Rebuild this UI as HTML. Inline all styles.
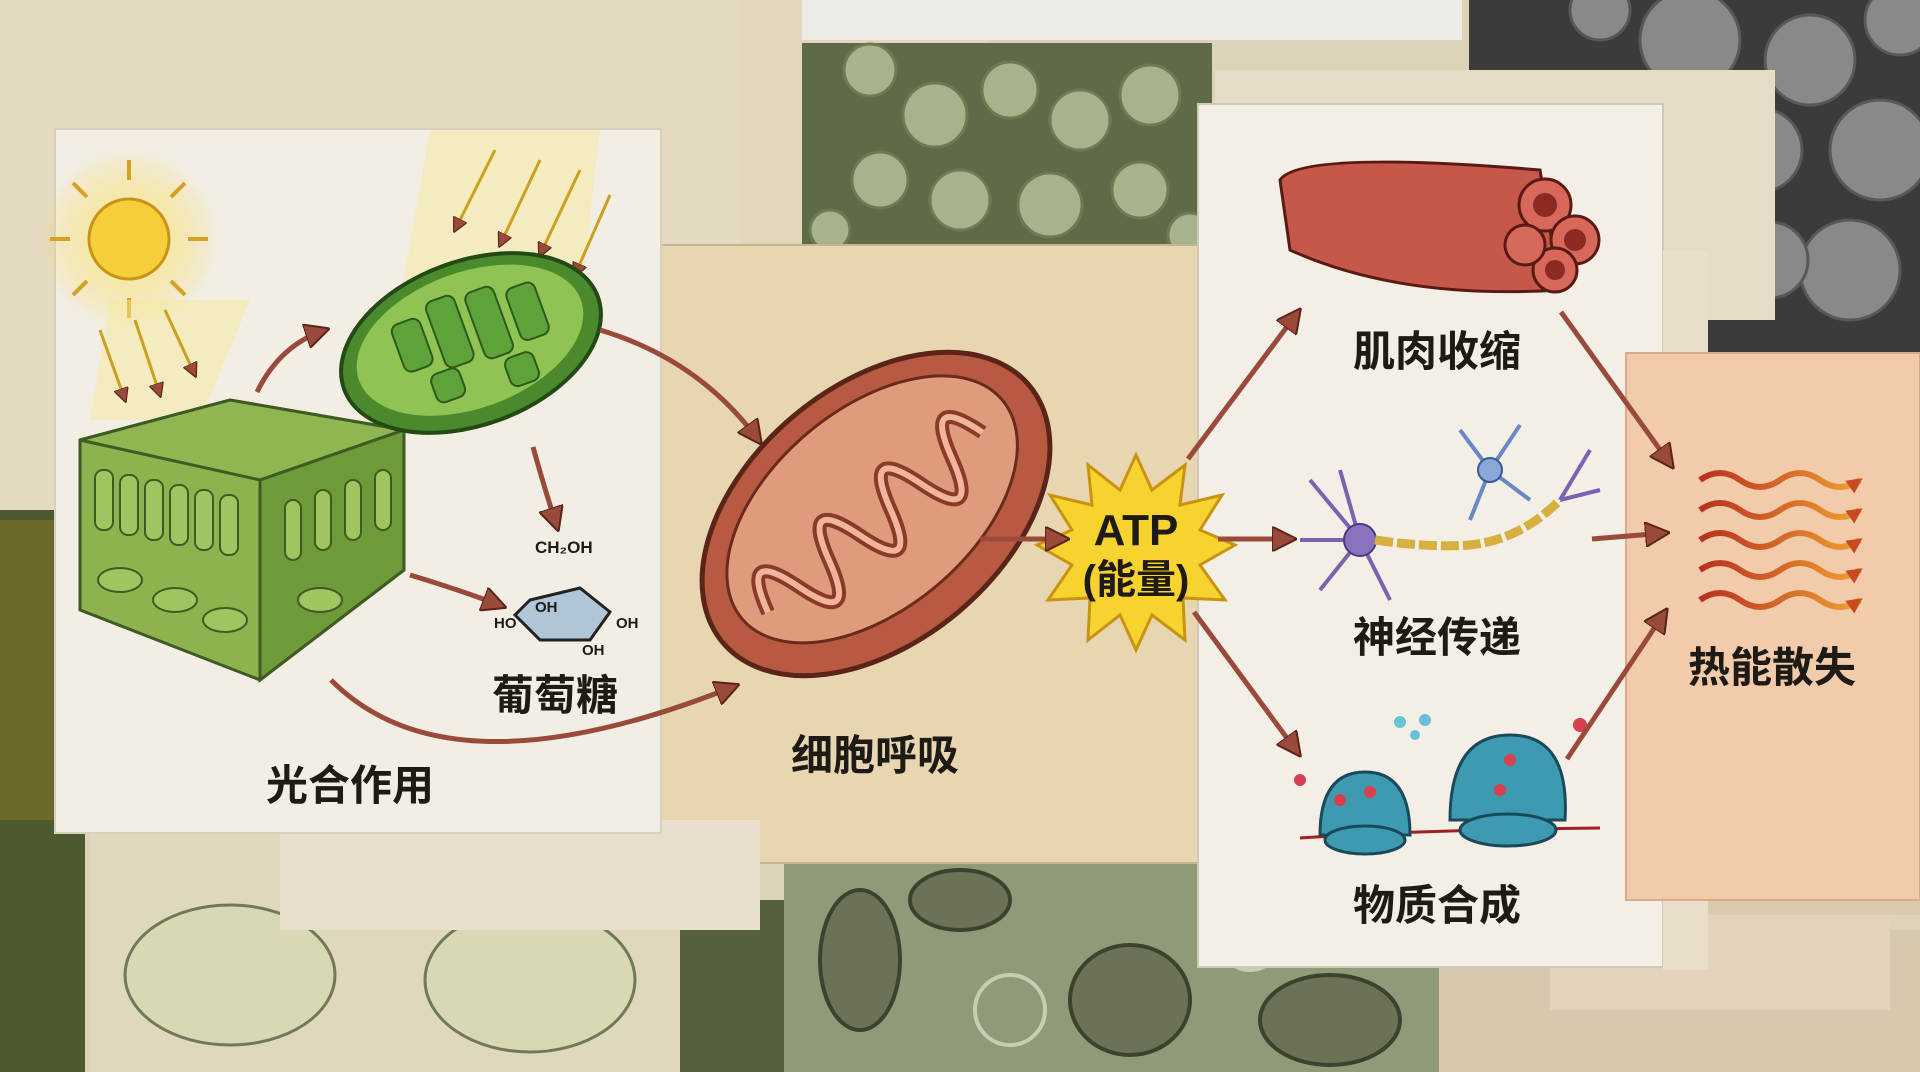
<!DOCTYPE html>
<html><head><meta charset="utf-8"><style>
html,body{margin:0;padding:0;width:1920px;height:1072px;overflow:hidden;background:#d9ceb4}
svg{display:block}
text{font-family:"Liberation Sans","Noto Sans CJK SC",sans-serif;font-weight:700;fill:#1e1a16}
</style></head><body>
<svg width="1920" height="1072" viewBox="0 0 1920 1072" xmlns="http://www.w3.org/2000/svg">
<defs>
<marker id="ah" viewBox="0 0 10 10" refX="8" refY="5" markerWidth="5" markerHeight="5" orient="auto-start-reverse">
<path d="M0,0 L10,5 L0,10 z" fill="#9a4a3a" stroke="#5a2418" stroke-width="0.8"/></marker>
<marker id="ah2" viewBox="0 0 10 10" refX="8" refY="5" markerWidth="2.6" markerHeight="2.6" orient="auto">
<path d="M0,0 L10,5 L0,10 z" fill="#c84a20"/></marker>
<radialGradient id="sun" cx="0.5" cy="0.5" r="0.5"><stop offset="0" stop-color="#fff6a0"/><stop offset="1" stop-color="#f3d040" stop-opacity="0"/></radialGradient>
<linearGradient id="heat" x1="0" x2="1"><stop offset="0" stop-color="#b83020"/><stop offset="1" stop-color="#f0a030"/></linearGradient>
</defs>
<rect x="0" y="0" width="1920" height="1072" fill="#ddd3b9"/>
<rect x="0" y="0" width="760" height="520" fill="#e4dac2"/>
<rect x="740" y="0" width="250" height="280" fill="#e2d6bc"/>
<rect x="0" y="510" width="85" height="562" fill="#4d5a30"/>
<rect x="0" y="520" width="60" height="300" fill="#6a6a2a"/>
<rect x="90" y="820" width="590" height="252" fill="#e0d8bd"/>
<rect x="680" y="900" width="110" height="172" fill="#55603f"/>
<rect x="1430" y="930" width="490" height="142" fill="#d6c9ae"/>
<rect x="1550" y="880" width="340" height="130" fill="#e3d3bd"/>
<rect x="1700" y="355" width="220" height="560" fill="#d8cbb0"/>
<rect x="802" y="0" width="660" height="40" fill="#ecebe6"/>
<rect x="802" y="43" width="410" height="202" fill="#5f6a48"/>
<g fill="#a7b38c" stroke="#6e7a52" stroke-width="3">
<circle cx="870" cy="70" r="26"/><circle cx="935" cy="115" r="32"/><circle cx="1010" cy="90" r="28"/><circle cx="1080" cy="120" r="30"/><circle cx="1150" cy="95" r="30"/><circle cx="880" cy="180" r="28"/><circle cx="960" cy="200" r="30"/><circle cx="1050" cy="205" r="32"/><circle cx="1140" cy="190" r="28"/><circle cx="1190" cy="235" r="22"/><circle cx="830" cy="230" r="20"/>
</g>
<rect x="1469" y="0" width="451" height="355" fill="#3d3b3a"/>
<g fill="#8b8987" stroke="#5a5856" stroke-width="3">
<circle cx="1690" cy="40" r="50"/><circle cx="1810" cy="60" r="45"/><circle cx="1880" cy="150" r="50"/><circle cx="1760" cy="150" r="42"/><circle cx="1850" cy="270" r="50"/><circle cx="1770" cy="260" r="38"/><circle cx="1900" cy="20" r="35"/><circle cx="1600" cy="10" r="30"/>
</g>
<rect x="1215" y="70" width="560" height="250" fill="#e6dcc6"/>
<rect x="784" y="863" width="655" height="209" fill="#8f9a78"/>
<g fill="#6b7356" stroke="#3c4230" stroke-width="4">
<ellipse cx="860" cy="960" rx="40" ry="70"/><ellipse cx="1130" cy="1000" rx="60" ry="55"/><ellipse cx="1330" cy="1020" rx="70" ry="45"/><ellipse cx="960" cy="900" rx="50" ry="30"/>
</g>
<g fill="none" stroke="#c7cdb4" stroke-width="4"><circle cx="1010" cy="1010" r="35"/><circle cx="1250" cy="940" r="30"/></g>
<g fill="#d8d9b4" stroke="#707a5a" stroke-width="3">
<ellipse cx="230" cy="975" rx="105" ry="70"/><ellipse cx="530" cy="980" rx="105" ry="72"/></g>
<rect x="545" y="245" width="655" height="618" fill="#e7d6b0" stroke="#c9b58d" stroke-width="2"/>
<rect x="280" y="820" width="480" height="110" fill="#e8e0cc"/>
<rect x="55" y="129" width="606" height="704" fill="#f2eee4" stroke="#d8d0bc" stroke-width="2"/>
<rect x="1198" y="104" width="465" height="863" fill="#f3efe6" stroke="#d0c8b6" stroke-width="2"/>
<rect x="1663" y="250" width="45" height="720" fill="#e9dfc8"/>
<rect x="1626" y="353" width="294" height="547" fill="#f1cbaa" stroke="#d8ab8a" stroke-width="2"/>

<circle cx="129" cy="239" r="90" fill="url(#sun)"/>
<circle cx="129" cy="239" r="40" fill="#f5cf3a" stroke="#c9921a" stroke-width="3"/>
<g stroke="#d8a020" stroke-width="4">
<line x1="129" y1="180" x2="129" y2="160"/><line x1="129" y1="298" x2="129" y2="318"/><line x1="70" y1="239" x2="50" y2="239"/><line x1="188" y1="239" x2="208" y2="239"/>
<line x1="87" y1="197" x2="73" y2="183"/><line x1="171" y1="281" x2="185" y2="295"/><line x1="171" y1="197" x2="185" y2="183"/><line x1="87" y1="281" x2="73" y2="295"/></g>
<polygon points="110,300 250,300 200,420 90,420" fill="#f6ea9a" opacity="0.5"/>
<g stroke="#c9a020" stroke-width="3" marker-end="url(#ah)">
<line x1="100" y1="330" x2="125" y2="400"/><line x1="135" y1="320" x2="160" y2="395"/><line x1="165" y1="310" x2="195" y2="375"/></g>
<polygon points="430,130 600,130 580,300 400,300" fill="#f6ea9a" opacity="0.5"/>
<g stroke="#c9a020" stroke-width="3" marker-end="url(#ah)">
<line x1="495" y1="150" x2="455" y2="230"/><line x1="540" y1="160" x2="500" y2="245"/><line x1="580" y1="170" x2="540" y2="255"/><line x1="610" y1="195" x2="575" y2="275"/></g>
<polygon points="80,440 230,400 404,430 404,570 260,680 80,610" fill="#8db24e" stroke="#3f5a22" stroke-width="3"/>
<polygon points="80,440 230,400 404,430 260,480" fill="#8fb650" stroke="#3f5a22" stroke-width="3"/>
<polygon points="260,480 404,430 404,570 260,680" fill="#6e9a3a" stroke="#3f5a22" stroke-width="3"/>
<g stroke="#3f5a22" stroke-width="2" fill="#a0c460">
<rect x="95" y="470" width="18" height="60" rx="8"/><rect x="120" y="475" width="18" height="60" rx="8"/><rect x="145" y="480" width="18" height="60" rx="8"/><rect x="170" y="485" width="18" height="60" rx="8"/><rect x="195" y="490" width="18" height="60" rx="8"/><rect x="220" y="495" width="18" height="60" rx="8"/>
<rect x="285" y="500" width="16" height="60" rx="8"/><rect x="315" y="490" width="16" height="60" rx="8"/><rect x="345" y="480" width="16" height="60" rx="8"/><rect x="375" y="470" width="16" height="60" rx="8"/>
<ellipse cx="120" cy="580" rx="22" ry="12"/><ellipse cx="175" cy="600" rx="22" ry="12"/><ellipse cx="225" cy="620" rx="22" ry="12"/><ellipse cx="320" cy="600" rx="22" ry="12"/></g>
<g transform="rotate(-20 471 343)">
<ellipse cx="471" cy="343" rx="135" ry="82" fill="#4a8a2c" stroke="#234a14" stroke-width="4"/>
<ellipse cx="471" cy="340" rx="118" ry="68" fill="#8fc454"/>
<g fill="#5ea23a" stroke="#2d5a1a" stroke-width="2">
<rect x="400" y="300" width="30" height="50" rx="8"/><rect x="440" y="290" width="30" height="70" rx="8"/><rect x="480" y="295" width="30" height="70" rx="8"/><rect x="520" y="305" width="30" height="55" rx="8"/><rect x="420" y="360" width="30" height="30" rx="8"/><rect x="495" y="370" width="30" height="30" rx="8"/></g></g>
<polygon points="530,600 580,588 610,612 590,640 540,640 515,615" fill="#aec6d8" stroke="#222" stroke-width="3"/>
<text x="535" y="553" font-size="17" font-weight="400">CH₂OH</text>
<text x="535" y="612" font-size="15" font-weight="400">OH</text>
<text x="494" y="628" font-size="15" font-weight="400">HO</text>
<text x="616" y="628" font-size="15" font-weight="400">OH</text>
<text x="582" y="655" font-size="15" font-weight="400">OH</text>
<text x="555" y="710" font-size="42" text-anchor="middle">葡萄糖</text>
<text x="350" y="800" font-size="42" text-anchor="middle">光合作用</text>
<g transform="rotate(-40 876 514)">
<ellipse cx="876" cy="514" rx="200" ry="128" fill="#b85a42" stroke="#5a2418" stroke-width="5"/>
<ellipse cx="876" cy="508" rx="170" ry="100" fill="#e09a7c" stroke="#6a2a1c" stroke-width="3"/>
<path d="M730,520 q20,-70 40,0 q20,70 40,0 q20,-70 40,0 q20,70 40,0 q20,-70 40,0 q20,70 40,0 q20,-70 40,0" fill="none" stroke="#8a3a28" stroke-width="14"/>
<path d="M730,520 q20,-70 40,0 q20,70 40,0 q20,-70 40,0 q20,70 40,0 q20,-70 40,0 q20,70 40,0 q20,-70 40,0" fill="none" stroke="#f2b49a" stroke-width="6"/>
</g>
<text x="875" y="770" font-size="42" text-anchor="middle">细胞呼吸</text>
<polygon points="1136,455 1152,490 1185,465 1180,505 1222,495 1200,530 1235,545 1200,565 1225,600 1183,598 1185,640 1152,615 1136,650 1120,615 1088,640 1090,598 1048,600 1072,565 1037,545 1072,530 1050,495 1092,505 1088,465 1120,490" fill="#f7d330" stroke="#c89410" stroke-width="3"/>
<text x="1136" y="545" font-size="44" text-anchor="middle" font-weight="700">ATP</text>
<text x="1136" y="593" font-size="40" text-anchor="middle">(能量)</text>
<g stroke="#5a1a14" stroke-width="3">
<path d="M1280,180 Q1300,150 1540,170 L1560,290 Q1400,300 1290,250 Z" fill="#c6584a"/>
<g fill="#d8685a"><circle cx="1545" cy="205" r="26"/><circle cx="1575" cy="240" r="24"/><circle cx="1555" cy="270" r="22"/><circle cx="1525" cy="245" r="20"/></g>
<g fill="#8a2a22" stroke="none"><circle cx="1545" cy="205" r="12"/><circle cx="1575" cy="240" r="11"/><circle cx="1555" cy="270" r="10"/></g></g>
<text x="1437" y="366" font-size="42" text-anchor="middle">肌肉收缩</text>
<g stroke="#7a62b0" stroke-width="4" fill="none">
<path d="M1360,540 L1310,480 M1360,540 L1320,590 M1360,540 L1300,540 M1360,540 L1340,470 M1360,540 L1390,600"/>
<path d="M1490,470 L1460,430 M1490,470 L1520,425 M1490,470 L1470,520 M1490,470 L1530,500" stroke="#6a88c8"/>
<path d="M1560,500 L1590,450 M1560,500 L1600,490" /></g>
<circle cx="1360" cy="540" r="16" fill="#8a72c0" stroke="#4a3a80" stroke-width="2"/>
<circle cx="1490" cy="470" r="12" fill="#8aa8d8" stroke="#3a5a90" stroke-width="2"/>
<path d="M1375,540 Q1430,548 1470,545 Q1520,540 1560,500" stroke="#d8b040" stroke-width="9" fill="none" stroke-dasharray="18 4"/>
<text x="1437" y="652" font-size="42" text-anchor="middle">神经传递</text>
<path d="M1300,838 Q1420,830 1600,828" stroke="#a02020" stroke-width="3" fill="none"/>
<g fill="#3e9ab0" stroke="#1a4a5a" stroke-width="3">
<path d="M1320,835 Q1320,772 1365,772 Q1410,772 1410,835 Z"/>
<ellipse cx="1365" cy="840" rx="40" ry="14"/>
<path d="M1450,820 Q1450,735 1510,735 Q1570,735 1565,820 Z"/>
<ellipse cx="1508" cy="830" rx="48" ry="16"/></g>
<g fill="#d84050"><circle cx="1340" cy="800" r="6"/><circle cx="1370" cy="792" r="6"/><circle cx="1500" cy="790" r="6"/><circle cx="1510" cy="760" r="6"/><circle cx="1580" cy="725" r="7"/><circle cx="1300" cy="780" r="6"/></g>
<g fill="#6ac0d8"><circle cx="1400" cy="722" r="6"/><circle cx="1415" cy="735" r="5"/><circle cx="1425" cy="720" r="6"/></g>
<text x="1437" y="920" font-size="42" text-anchor="middle">物质合成</text>
<g fill="none" stroke="url(#heat)" stroke-width="6" marker-end="url(#ah2)">
<path d="M1700,480 q20,-14 40,0 t40,0 t40,0 t40,0"/>
<path d="M1700,510 q20,-14 40,0 t40,0 t40,0 t40,0"/>
<path d="M1700,540 q20,-14 40,0 t40,0 t40,0 t40,0"/>
<path d="M1700,570 q20,-14 40,0 t40,0 t40,0 t40,0"/>
<path d="M1700,600 q20,-14 40,0 t40,0 t40,0 t40,0"/></g>
<text x="1772" y="682" font-size="42" text-anchor="middle">热能散失</text>
<g fill="none" stroke="#9a4a3a" stroke-width="5" marker-end="url(#ah)">
<path d="M257,392 Q280,345 325,330"/>
<path d="M533,447 Q545,490 557,527"/>
<path d="M410,575 Q460,590 502,606"/>
<path d="M600,330 Q700,360 759,441"/>
<path d="M331,680 Q450,800 735,686"/>
<path d="M980,539 L1065,539"/>
<path d="M1188,459 L1298,312"/>
<path d="M1218,539 L1292,539"/>
<path d="M1194,612 L1298,753"/>
<path d="M1561,312 L1671,465"/>
<path d="M1592,539 L1665,533"/>
<path d="M1567,759 L1665,612"/>
</g>
</svg>
</body></html>
